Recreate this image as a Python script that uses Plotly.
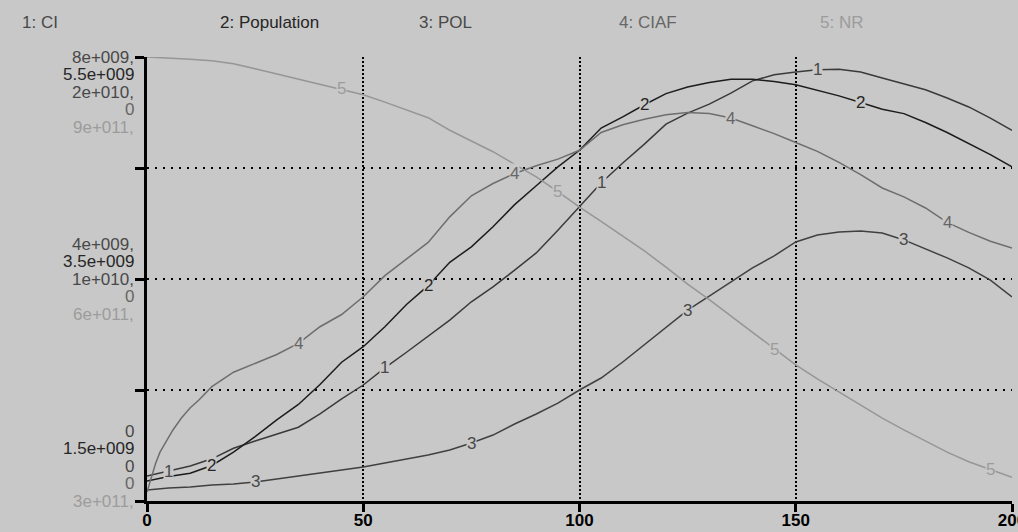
import numpy as np
import plotly.graph_objects as go

# ---------------- data ----------------
TIME = list(range(0, 201, 5))

CI_BN = [0.45, 0.54, 0.63, 0.76, 0.95, 1.08, 1.21, 1.33, 1.57, 1.84, 2.09, 2.40, 2.68, 2.97,
         3.26, 3.59, 3.86, 4.16, 4.47, 4.88, 5.30, 5.73, 6.09, 6.43, 6.79, 6.99, 7.15, 7.35,
         7.57, 7.68, 7.73, 7.77, 7.78, 7.73, 7.62, 7.51, 7.41, 7.26, 7.10, 6.90, 6.68]

POP_BN = [1.68, 1.72, 1.75, 1.82, 1.94, 2.08, 2.23, 2.37, 2.55, 2.75, 2.89, 3.07, 3.27, 3.44,
          3.65, 3.79, 3.97, 4.17, 4.34, 4.51, 4.66, 4.86, 4.96, 5.07, 5.17, 5.23, 5.27, 5.30,
          5.30, 5.28, 5.25, 5.20, 5.15, 5.09, 5.03, 4.99, 4.91, 4.82, 4.72, 4.62, 4.51]

POL_1E10 = [0.050, 0.059, 0.063, 0.072, 0.077, 0.086, 0.099, 0.113, 0.126, 0.140, 0.153, 0.171,
            0.189, 0.207, 0.230, 0.261, 0.297, 0.347, 0.392, 0.441, 0.500, 0.554, 0.626, 0.703,
            0.779, 0.860, 0.923, 0.986, 1.050, 1.104, 1.167, 1.198, 1.212, 1.216, 1.207, 1.176,
            1.135, 1.095, 1.050, 0.995, 0.919]

NR_1E11 = [9.00, 8.99, 8.97, 8.95, 8.91, 8.84, 8.77, 8.70, 8.64, 8.57, 8.49, 8.39, 8.28, 8.18,
           8.01, 7.87, 7.72, 7.55, 7.38, 7.18, 6.97, 6.78, 6.58, 6.38, 6.16, 5.93, 5.72, 5.50,
           5.28, 5.05, 4.84, 4.65, 4.47, 4.30, 4.12, 3.96, 3.81, 3.66, 3.53, 3.42, 3.32]

CIAF_TIME = [0, 1, 2, 3, 4, 6, 8, 10, 12, 15] + list(range(20, 201, 5))
CIAF = [0.008, 0.021, 0.034, 0.044, 0.051, 0.064, 0.075, 0.084, 0.091, 0.103,
        0.116, 0.124, 0.132, 0.142, 0.157, 0.168, 0.184, 0.203, 0.218, 0.233, 0.256, 0.275,
        0.286, 0.295, 0.302, 0.308, 0.316, 0.332, 0.339, 0.344, 0.348, 0.350, 0.349, 0.345,
        0.338, 0.331, 0.323, 0.315, 0.305, 0.294, 0.282, 0.274, 0.264, 0.251, 0.242, 0.234, 0.228]

NAMES = ["CI", "Population", "POL", "CIAF", "NR"]
RANGES = [[0, 8e9], [1.5e9, 5.5e9], [0, 2e10], [0, 0.4], [3e11, 9e11]]
SCALE_TOP = ["8e+009,", "5.5e+009", "2e+010,", "0", "9e+011,"]
SCALE_MID = ["4e+009,", "3.5e+009", "1e+010,", "0", "6e+011,"]
SCALE_BOT = ["0", "1.5e+009", "0", "0", "3e+011,"]
LABEL_T = [[5, 55, 105, 155], [15, 65, 115, 165], [25, 75, 125, 175],
           [35, 85, 135, 185], [45, 95, 145, 195]]
X_TICKS = [0, 50, 100, 150, 200]

# ---------------- style ----------------
BG = "#c8c8c8"
LINE_COLORS = ["#3a3a3a", "#1c1c1c", "#404040", "#6e6e6e", "#969696"]
TEXT_COLORS = ["#484848", "#262626", "#484848", "#666666", "#9c9c9c"]
FONT = "Liberation Sans, Arial, sans-serif"
FS = 17

series_x = [TIME, TIME, TIME, CIAF_TIME, TIME]
series_y = [np.array(CI_BN) * 1e9, np.array(POP_BN) * 1e9, np.array(POL_1E10) * 1e10,
            np.array(CIAF), np.array(NR_1E11) * 1e11]

fig = go.Figure()
axis_ids = ["y", "y2", "y3", "y4", "y5"]
for i in range(5):
    fig.add_trace(go.Scatter(x=series_x[i], y=series_y[i], mode="lines", name=NAMES[i],
                             yaxis=axis_ids[i], line=dict(color=LINE_COLORS[i], width=1.5),
                             hoverinfo="skip", showlegend=False))

annotations = []
# numbers on lines
for i in range(5):
    for t in LABEL_T[i]:
        yv = float(np.interp(t, series_x[i], series_y[i]))
        annotations.append(dict(x=t, y=yv, xref="x", yref=axis_ids[i], text=str(i + 1),
                                showarrow=False, bgcolor=BG, borderpad=0,
                                font=dict(family=FONT, size=FS, color=TEXT_COLORS[i])))
# scale labels on left
for i in range(5):
    lo, hi = RANGES[i]
    mid = (lo + hi) / 2
    for val, txt, shift in [(hi, SCALE_TOP[i], -17.5 * i),
                            (mid, SCALE_MID[i], (2 - i) * 17.5),
                            (lo, SCALE_BOT[i], (4 - i) * 17.5)]:
        annotations.append(dict(x=0, y=val, xref="paper", yref=axis_ids[i], text=txt,
                                showarrow=False, xanchor="right", xshift=-11, yshift=shift,
                                font=dict(family=FONT, size=FS, color=TEXT_COLORS[i])))
# header
header_x = [20, 218, 417, 617, 818]
for i in range(5):
    annotations.append(dict(x=(header_x[i] - 147) / 865, y=(501 - 23) / 444, xref="paper",
                            yref="paper", text=f"{i + 1}: {NAMES[i]}", showarrow=False,
                            xanchor="left", yanchor="middle",
                            font=dict(family=FONT, size=FS, color=TEXT_COLORS[i])))

layout = dict(
    width=1018, height=532,
    margin=dict(l=147, r=6, t=57, b=31, autoexpand=False),
    paper_bgcolor=BG, plot_bgcolor=BG,
    showlegend=False,
    annotations=annotations,
    xaxis=dict(range=[0, 200], tickvals=X_TICKS, ticktext=[str(v) for v in X_TICKS],
               showgrid=True, gridcolor="black", gridwidth=2, griddash="2px,2px",
               zeroline=False, showline=True, linecolor="black", linewidth=3,
               ticks="outside", ticklen=8, tickwidth=3, tickcolor="black",
               tickfont=dict(family=FONT, size=FS, color="black", weight="bold"),
               ticklabelstandoff=-6,
               automargin=False, ticklabeloverflow="allow", fixedrange=True),
    yaxis=dict(range=RANGES[0], tickvals=list(np.linspace(RANGES[0][0], RANGES[0][1], 5)),
               showticklabels=False, showgrid=True, gridcolor="black", gridwidth=2,
               griddash="2px,6px", zeroline=False, showline=True, linecolor="black",
               linewidth=3, ticks="outside", ticklen=9, tickwidth=3, tickcolor="black",
               automargin=False, fixedrange=True),
)
for k in range(1, 5):
    layout[f"yaxis{k + 1}"] = dict(range=RANGES[k], overlaying="y", visible=False,
                                   showgrid=False, zeroline=False, automargin=False,
                                   fixedrange=True)

fig.update_layout(**layout)

fig.write_html("out.html", config={"displayModeBar": False},
               post_script="document.body.style.margin='0';document.body.style.overflow='hidden';")
